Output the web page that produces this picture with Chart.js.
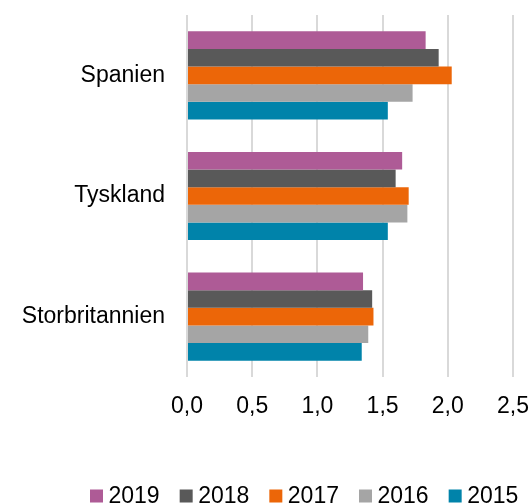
<!DOCTYPE html>
<html>
<head>
<meta charset="utf-8">
<script src="https://cdn.jsdelivr.net/npm/chart.js@4"></script>
<style>
  html, body { margin: 0; padding: 0; background: #fff; }
  #wrap { width: 532px; height: 503px; }
</style>
</head>
<body>
<div id="wrap"><canvas id="c" width="532" height="503"></canvas></div>
<script>
const categories = ['Spanien', 'Tyskland', 'Storbritannien'];
const seriesNames = ['2019', '2018', '2017', '2016', '2015'];
const values2019 = [1.83, 1.65, 1.35];
const values2018 = [1.93, 1.60, 1.42];
const values2017 = [2.03, 1.70, 1.43];
const values2016 = [1.73, 1.69, 1.39];
const values2015 = [1.54, 1.54, 1.34];
const xTickLabels = ['0,0', '0,5', '1,0', '1,5', '2,0', '2,5'];
const colors = ['#ae5b96', '#595959', '#ec6608', '#a5a5a5', '#0083aa'];

const allValues = [values2019, values2018, values2017, values2016, values2015];
const FONT = 'Liberation Sans, Arial, sans-serif';

const customLegend = {
  id: 'customLegend',
  afterDraw(chart) {
    const ctx = chart.ctx;
    ctx.save();
    ctx.font = '23px ' + FONT;
    ctx.textBaseline = 'alphabetic';
    ctx.textAlign = 'left';
    let x = 90;
    const baseline = 502.5;
    chart.data.datasets.forEach(ds => {
      ctx.fillStyle = ds.backgroundColor;
      ctx.fillRect(x, baseline - 13, 13, 13);
      ctx.fillStyle = '#000';
      ctx.fillText(ds.label, x + 18.5, baseline);
      x += 18.5 + ctx.measureText(ds.label).width + 20;
    });
    ctx.restore();
  }
};

new Chart(document.getElementById('c'), {
  type: 'bar',
  data: {
    labels: categories,
    datasets: seriesNames.map((name, i) => ({
      label: name,
      data: allValues[i],
      backgroundColor: colors[i],
      borderWidth: 0,
      categoryPercentage: 0.73,
      barPercentage: 1.0
    }))
  },
  options: {
    indexAxis: 'y',
    responsive: false,
    animation: false,
    layout: { padding: { top: 15, right: 19, left: 0, bottom: 86 } },
    plugins: {
      legend: { display: false },
      tooltip: { enabled: false }
    },
    scales: {
      x: {
        min: 0,
        max: 2.5,
        ticks: {
          stepSize: 0.5,
          color: '#000',
          font: { family: FONT, size: 23 },
          padding: 16,
          maxRotation: 0,
          callback: (v, i) => xTickLabels[i]
        },
        grid: { color: '#d9d9d9', lineWidth: 2, drawTicks: false },
        border: { display: false },
        afterFit: (s) => { s.height = 40; s.paddingLeft = 0; s.paddingRight = 0; }
      },
      y: {
        ticks: {
          color: '#000',
          font: { family: FONT, size: 23 },
          padding: 22
        },
        grid: { display: false, drawTicks: false },
        border: { display: false },
        afterFit: (s) => { s.width = 187; s.paddingTop = 0; s.paddingBottom = 0; }
      }
    }
  },
  plugins: [customLegend]
});
</script>
</body>
</html>
